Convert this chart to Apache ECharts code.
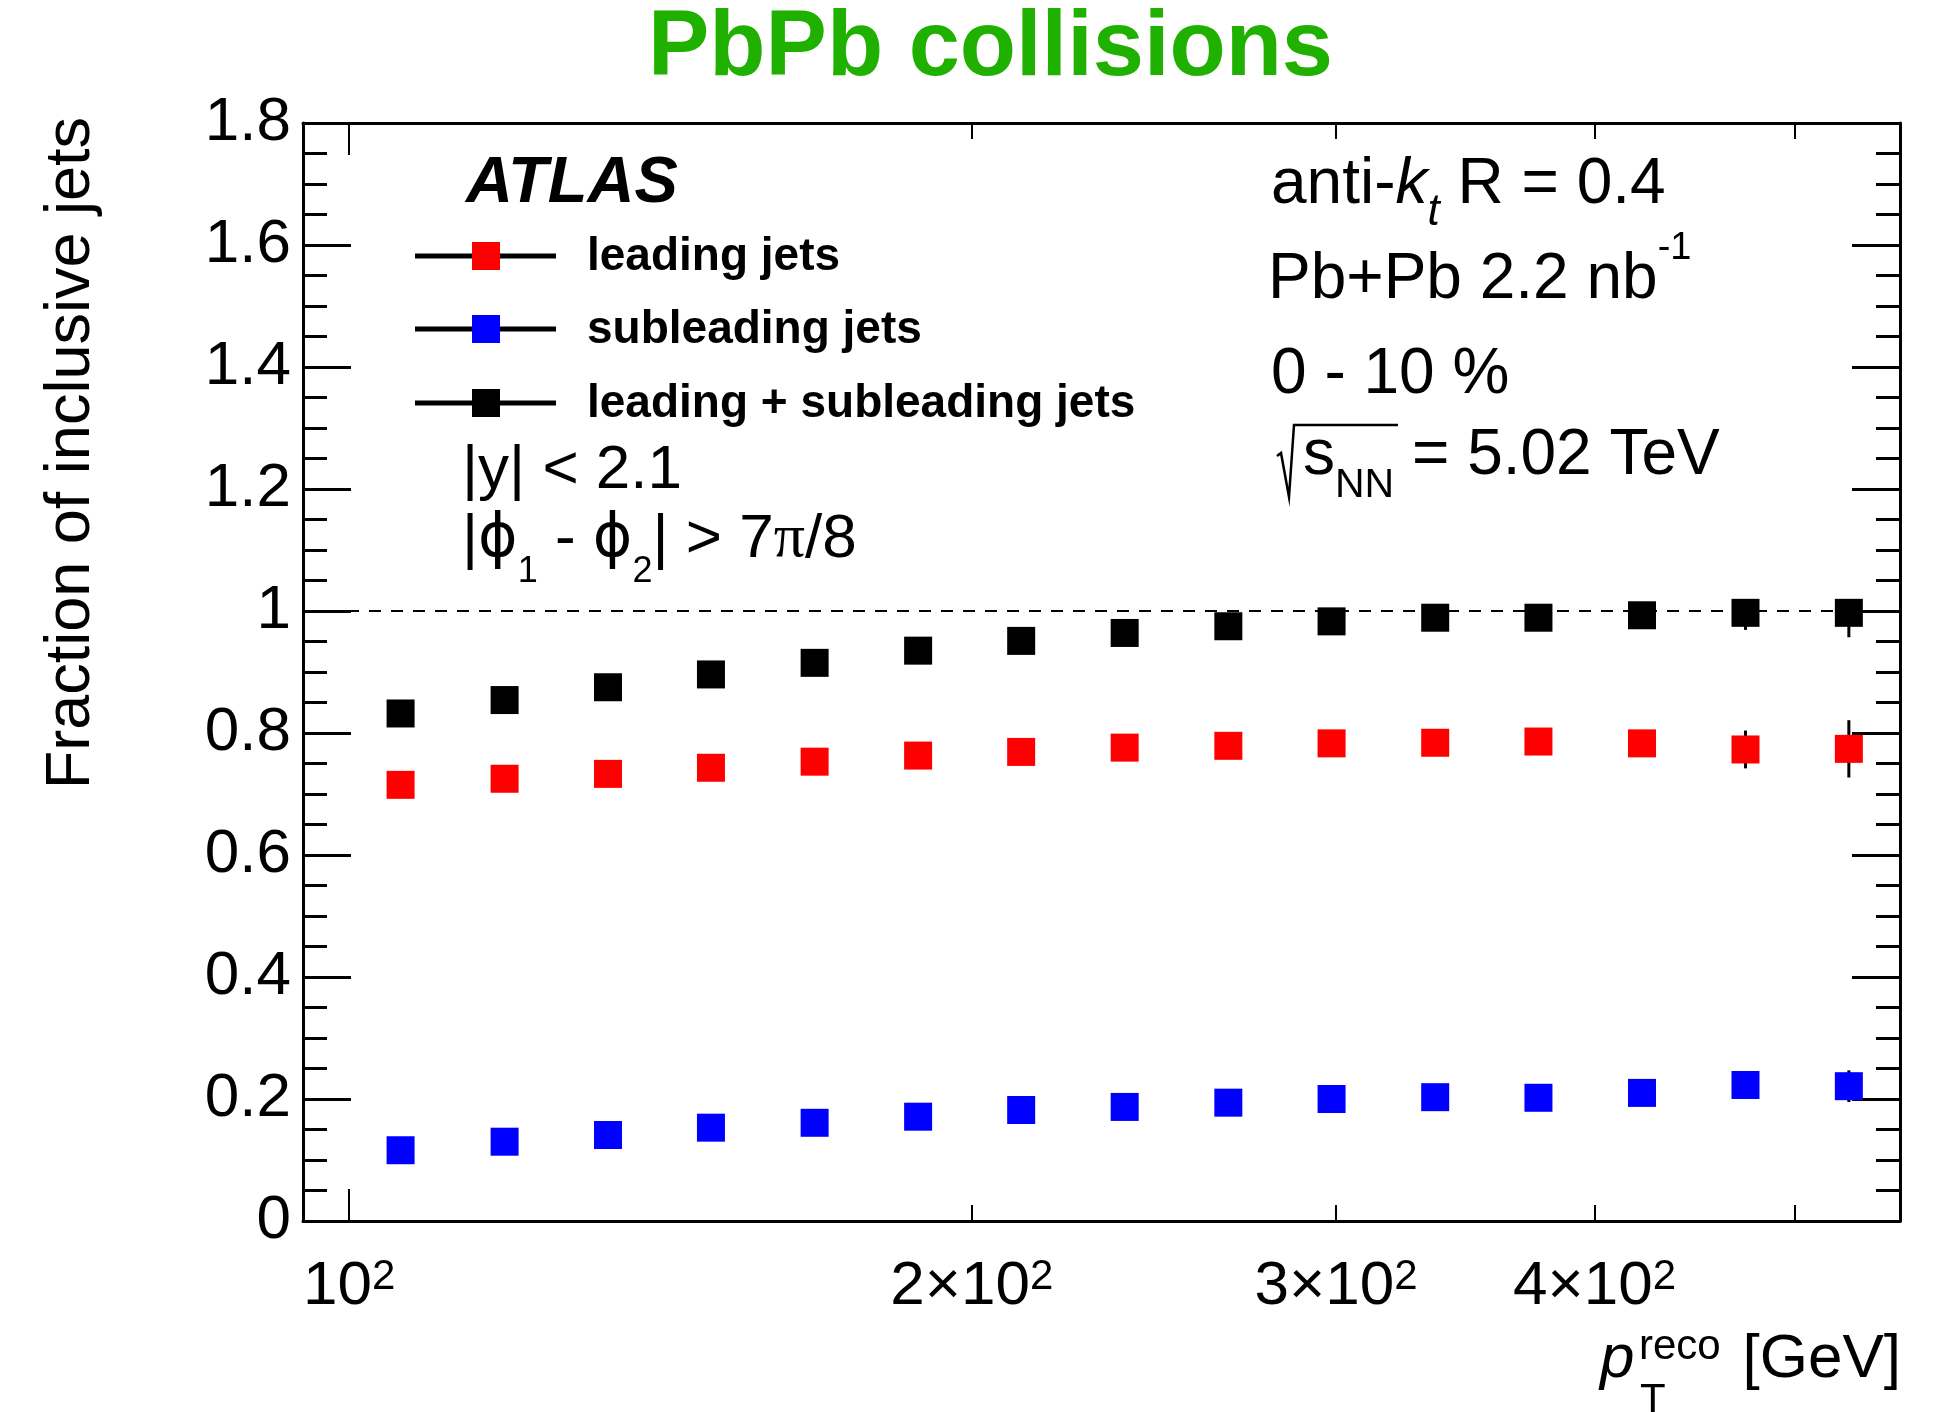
<!DOCTYPE html>
<html><head><meta charset="utf-8">
<script src="https://cdn.jsdelivr.net/npm/echarts@6/dist/echarts.min.js"></script>
<style>html,body{margin:0;padding:0;background:#fff}#c{width:1952px;height:1412px}</style>
</head><body><div id="c"></div>
<script>
// ---- data ----
const ptCenters = [105.9, 118.9, 133.4, 149.6, 167.9, 188.4, 211.3, 237.1, 266.1, 298.5, 335.0, 375.8, 421.7, 473.2, 530.9];
const leadingFrac = [0.715, 0.725, 0.733, 0.743, 0.753, 0.763, 0.769, 0.776, 0.779, 0.783, 0.784, 0.786, 0.783, 0.773, 0.774];
const leadingErr = [0.003, 0.003, 0.003, 0.003, 0.004, 0.004, 0.005, 0.005, 0.006, 0.007, 0.008, 0.010, 0.013, 0.031, 0.047];
const subleadingFrac = [0.116, 0.130, 0.141, 0.153, 0.161, 0.171, 0.182, 0.187, 0.194, 0.200, 0.203, 0.202, 0.210, 0.223, 0.221];
const subleadingErr = [0.002, 0.002, 0.002, 0.003, 0.003, 0.003, 0.004, 0.004, 0.005, 0.005, 0.006, 0.007, 0.009, 0.020, 0.026];
const combinedFrac = [0.832, 0.854, 0.875, 0.896, 0.915, 0.935, 0.951, 0.964, 0.975, 0.983, 0.989, 0.989, 0.993, 0.997, 0.997];
const combinedErrLow = [0.002, 0.002, 0.002, 0.002, 0.003, 0.003, 0.003, 0.004, 0.004, 0.005, 0.006, 0.007, 0.010, 0.028, 0.040];
const combinedErrHigh = [0.002, 0.002, 0.002, 0.002, 0.003, 0.003, 0.003, 0.003, 0.003, 0.003, 0.003, 0.003, 0.003, 0.003, 0.003];
const seriesNames = ['leading jets', 'subleading jets', 'leading + subleading jets'];
const xTickValues = [200, 300, 400, 500];
const xLongTickValues = [100];
const xLabelValues = [100, 200, 300, 400];
const xRange = [95, 562];
const yRange = [0, 1.8];
const yStep = 0.2;

const FONT = '"Liberation Sans", Arial, Helvetica, sans-serif';
const chart = echarts.init(document.getElementById('c'), null, {renderer: 'canvas'});

function xLabelFmt(v) {
  const m = Math.round(v / 100);
  return m === 1 ? '{m|10}{s|2}' : '{m|' + m + '×10}{s|2}';
}
function yLabelFmt(v) {
  if (Math.abs(v) < 1e-9) return '0';
  if (Math.abs(v - 1) < 1e-9) return '1';
  return v.toFixed(1);
}
function xAxisDef(pos, ticks, len, labels) {
  return {
    type: 'log', logBase: 10, min: xRange[0], max: xRange[1], position: pos,
    axisLine: {show: true, onZero: false, lineStyle: {color: '#000', width: 3}},
    axisTick: {show: true, inside: true, length: len, customValues: ticks, lineStyle: {color: '#000', width: 2}},
    axisLabel: labels ? {
      show: true, customValues: labels, margin: 35, formatter: xLabelFmt, color: '#000', fontFamily: FONT,
      rich: {
        m: {fontSize: 62, lineHeight: 62, fontFamily: FONT, color: '#000'},
        s: {fontSize: 42, lineHeight: 16, verticalAlign: 'top', fontFamily: FONT, color: '#000'}
      }
    } : {show: false},
    splitLine: {show: false}, minorTick: {show: false}, minorSplitLine: {show: false}
  };
}
function yAxisDef(pos, showLabel) {
  return {
    type: 'value', min: yRange[0], max: yRange[1], interval: yStep, position: pos,
    axisLine: {show: true, onZero: false, lineStyle: {color: '#000', width: 3}},
    axisTick: {show: true, inside: true, length: 48, lineStyle: {color: '#000', width: 3}},
    minorTick: {show: true, splitNumber: 4, length: 24, lineStyle: {color: '#000', width: 3}},
    axisLabel: showLabel ? {show: true, margin: 12, fontSize: 62, color: '#000', fontFamily: FONT,
      formatter: yLabelFmt, showMinLabel: true, showMaxLabel: true} : {show: false},
    splitLine: {show: false}
  };
}
function errSeries(ys, lo, hi) {
  return {
    type: 'custom', xAxisIndex: 0, yAxisIndex: 0, z: 2, silent: true,
    data: ptCenters.map((x, i) => [x, ys[i] - lo[i], ys[i] + hi[i]]),
    encode: {x: 0, y: [1, 2]},
    renderItem: (params, api) => {
      const a = api.coord([api.value(0), api.value(1)]);
      const b = api.coord([api.value(0), api.value(2)]);
      return {type: 'line', shape: {x1: a[0], y1: a[1], x2: b[0], y2: b[1]},
        style: {stroke: '#000', lineWidth: 3}};
    }
  };
}
function scatter(name, ys, color, extra) {
  return Object.assign({
    type: 'scatter', name: name, xAxisIndex: 0, yAxisIndex: 0, z: 3, symbol: 'rect', symbolSize: 28,
    itemStyle: {color: color, opacity: 1}, emphasis: {disabled: true},
    data: ptCenters.map((x, i) => [x, ys[i]])
  }, extra || {});
}

function txt(x, y, rich, text) {
  return {type: 'text', x: x, y: y, z: 10,
    style: {text: text, rich: rich, verticalAlign: 'middle', align: 'left', fill: '#000', font: '62px ' + FONT}};
}
const M = {fontSize: 62, lineHeight: 100, fontFamily: FONT, color: '#000'};
const R = {fontSize: 64, lineHeight: 100, fontFamily: FONT, color: '#000'};
const RI = Object.assign({}, R, {fontStyle: 'italic'});

const legendRows = [256, 329, 403];
const legendColors = ['#ff0000', '#0000ff', '#000000'];
const legendGraphics = [];
legendRows.forEach((cy, i) => {
  legendGraphics.push({type: 'line', z: 10, shape: {x1: 415, y1: cy, x2: 556, y2: cy}, style: {stroke: '#000', lineWidth: 5}});
  legendGraphics.push({type: 'rect', z: 11, shape: {x: 472, y: cy - 14, width: 28, height: 28}, style: {fill: legendColors[i]}});
  legendGraphics.push({type: 'text', z: 11, x: 587, y: cy + 1, style: {text: seriesNames[i], fill: '#000',
    font: 'bold 46px ' + FONT, verticalAlign: 'middle', align: 'left'}});
});

const option = {
  animation: false,
  backgroundColor: '#fff',
  textStyle: {fontFamily: FONT},
  grid: {left: 303, top: 123, width: 1597, height: 1098, containLabel: false},
  xAxis: [
    xAxisDef('bottom', xTickValues, 16, xLabelValues),
    xAxisDef('top', xTickValues, 16, null),
    Object.assign(xAxisDef('bottom', xLongTickValues, 32, null), {axisLine: {show: false, onZero: false}}),
    Object.assign(xAxisDef('top', xLongTickValues, 32, null), {axisLine: {show: false, onZero: false}})
  ],
  yAxis: [yAxisDef('left', true), yAxisDef('right', false)],
  series: [
    errSeries(leadingFrac, leadingErr, leadingErr),
    errSeries(subleadingFrac, subleadingErr, subleadingErr),
    errSeries(combinedFrac, combinedErrLow, combinedErrHigh),
    scatter(seriesNames[0], leadingFrac, '#ff0000'),
    scatter(seriesNames[1], subleadingFrac, '#0000ff'),
    scatter(seriesNames[2], combinedFrac, '#000000', {
      markLine: {silent: true, symbol: ['none', 'none'], label: {show: false}, z: 1,
        lineStyle: {type: [12, 10], color: '#000', width: 2, opacity: 1}, emphasis: {disabled: true}, data: [{yAxis: 1}]}
    })
  ],
  graphic: [
    {type: 'text', x: 648, y: 50, z: 10, style: {text: 'PbPb collisions', fill: '#1fb000',
      font: 'bold 92px ' + FONT, verticalAlign: 'middle', align: 'left'}},
    {type: 'text', x: 72, y: 117, rotation: Math.PI / 2, z: 10, style: {text: 'Fraction of inclusive jets', fill: '#000',
      font: '63px ' + FONT, verticalAlign: 'middle', align: 'right'}},
    {type: 'text', x: 466, y: 184, z: 10, style: {text: 'ATLAS', fill: '#000',
      font: 'italic bold 65px ' + FONT, verticalAlign: 'middle', align: 'left'}},
    txt(1271, 185, {m: R, k: RI, t: Object.assign({}, RI, {fontSize: 44, lineHeight: 55, verticalAlign: 'bottom'})},
      '{m|anti-}{k|k}{t|t}{m| R = 0.4}'),
    txt(1268, 280, {m: R, s: {fontSize: 38, lineHeight: 54, verticalAlign: 'top', fontFamily: FONT, color: '#000'}},
      '{m|Pb+Pb 2.2 nb}{s|-1}'),
    txt(1271, 375, {m: R}, '{m|0 - 10 %}'),
    txt(1303, 456, {m: R, n: {fontSize: 41, lineHeight: 51, verticalAlign: 'bottom', fontFamily: FONT, color: '#000'}},
      '{m|s}{n|NN}{m| = 5.02 TeV}'),
    {type: 'polyline', z: 10, shape: {points: [[1277, 456], [1281, 453], [1289, 497], [1294, 425], [1398, 425]]},
      style: {stroke: '#000', lineWidth: 2.5, fill: null}},
    txt(462, 471, {m: M}, '{m||y| < 2.1}'),
    txt(462, 540, {m: M, p: {fontSize: 60, lineHeight: 100, fontFamily: '"DejaVu Sans", ' + FONT, color: '#000'},
      pi: {fontSize: 62, lineHeight: 100, fontFamily: '"Liberation Serif", serif', color: '#000'},
      b: {fontSize: 36, lineHeight: 22, verticalAlign: 'bottom', fontFamily: FONT, color: '#000'}},
      '{m||}{p|ϕ}{b|1}{m| - }{p|ϕ}{b|2}{m|| > 7}{pi|π}{m|/8}'),
    {type: 'text', x: 1600, y: 1360, z: 10, style: {text: 'p', fill: '#000', font: 'italic 62px ' + FONT, verticalAlign: 'middle', align: 'left'}},
    {type: 'text', x: 1639, y: 1347, z: 10, style: {text: 'reco', fill: '#000', font: '42px ' + FONT, verticalAlign: 'middle', align: 'left'}},
    {type: 'text', x: 1640, y: 1401, z: 10, style: {text: 'T', fill: '#000', font: '42px ' + FONT, verticalAlign: 'middle', align: 'left'}},
    {type: 'text', x: 1901, y: 1360, z: 10, style: {text: '[GeV]', fill: '#000', font: '62px ' + FONT, verticalAlign: 'middle', align: 'right'}}
  ].concat(legendGraphics)
};
chart.setOption(option);
</script></body></html>
